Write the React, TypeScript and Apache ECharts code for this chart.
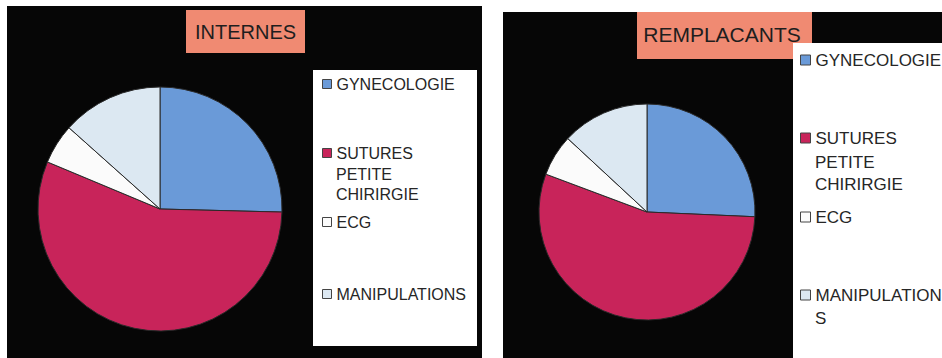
import React, { useEffect, useRef } from "react";
import * as echarts from "echarts";

const categories = ["GYNECOLOGIE", "SUTURES PETITE CHIRIRGIE", "ECG", "MANIPULATIONS"];
const colors = ["#6a9ad8", "#c8245a", "#fbfbfb", "#dce8f2"];
const internesValues = [25.4, 55.9, 5.3, 13.4];
const remplacantsValues = [25.7, 55.0, 6.2, 13.1];
const titles = ["INTERNES", "REMPLACANTS"];

const FONT = "'Liberation Sans', Arial, sans-serif";

export default function App() {
  const ref = useRef<HTMLDivElement>(null);
  useEffect(() => {
    if (!ref.current) return;
    const chart = echarts.init(ref.current, null, { renderer: "svg" });

    const mkData = (vals: number[]) =>
      categories.map((name, i) => ({ name, value: vals[i], itemStyle: { color: colors[i] } }));

    const pieBase = {
      type: "pie",
      startAngle: 90,
      clockwise: true,
      label: { show: false },
      labelLine: { show: false },
      emphasis: { disabled: true },
      itemStyle: { borderColor: "#2a2a2a", borderWidth: 1 },
      z: 5,
    };

    const mkLegend = (
      name: string,
      left: number,
      cy: number,
      fontSize: number,
      lh: number,
      iconSize: number,
      firstLine: string
    ) => ({
      left,
      top: cy - lh / 2,
      padding: 0,
      orient: "vertical",
      icon: "rect",
      itemWidth: iconSize,
      itemHeight: iconSize,
      selectedMode: false,
      itemStyle: { borderColor: "#444", borderWidth: 1 },
      data: [name],
      formatter: () => firstLine,
      textStyle: { fontFamily: FONT, fontSize, lineHeight: lh, color: "#262626" },
      z: 20,
    });

    const option = {
      animation: false,
      backgroundColor: "#ffffff",
      graphic: [
        { type: "rect", shape: { x: 7, y: 6, width: 475, height: 360 }, style: { fill: "#060606" }, z: 0 },
        { type: "rect", shape: { x: 503, y: 12, width: 450, height: 360 }, style: { fill: "#060606" }, z: 0 },
        { type: "rect", shape: { x: 186, y: 10, width: 119, height: 43 }, style: { fill: "#f08a72" }, z: 1 },
        {
          type: "text",
          x: 245.5,
          y: 32,
          style: { text: titles[0], fill: "#1e1e1e", font: `20px ${FONT}`, align: "center", verticalAlign: "middle" },
          z: 2,
        },
        { type: "rect", shape: { x: 637, y: 12, width: 175, height: 47 }, style: { fill: "#f08a72" }, z: 1 },
        {
          type: "text",
          x: 722,
          y: 34,
          style: { text: titles[1], fill: "#1e1e1e", font: `21px ${FONT}`, align: "center", verticalAlign: "middle" },
          z: 2,
        },
        { type: "rect", shape: { x: 313, y: 70, width: 164, height: 276 }, style: { fill: "#ffffff" }, z: 3 },
        { type: "rect", shape: { x: 793, y: 43, width: 160, height: 320 }, style: { fill: "#ffffff" }, z: 3 },
        {
          type: "text",
          x: 336,
          y: 164,
          style: { text: "PETITE\nCHIRIRGIE", fill: "#262626", font: `16px ${FONT}`, lineHeight: 20, verticalAlign: "top" },
          z: 20,
        },
        {
          type: "text",
          x: 815,
          y: 151,
          style: { text: "PETITE\nCHIRIRGIE", fill: "#262626", font: `17px ${FONT}`, lineHeight: 22, verticalAlign: "top" },
          z: 20,
        },
        {
          type: "text",
          x: 815,
          y: 318,
          style: { text: "S", fill: "#262626", font: `17px ${FONT}`, verticalAlign: "middle" },
          z: 20,
        },
      ],
      legend: [
        mkLegend(categories[0], 322, 84, 16, 20, 9, "GYNECOLOGIE"),
        mkLegend(categories[1], 322, 153, 16, 20, 9, "SUTURES"),
        mkLegend(categories[2], 322, 222, 16, 20, 9, "ECG"),
        mkLegend(categories[3], 322, 294, 16, 20, 9, "MANIPULATIONS"),
        mkLegend(categories[0], 800, 60, 17, 22, 10, "GYNECOLOGIE"),
        mkLegend(categories[1], 800, 138, 17, 22, 10, "SUTURES"),
        mkLegend(categories[2], 800, 217, 17, 22, 10, "ECG"),
        mkLegend(categories[3], 800, 295, 17, 22, 10, "MANIPULATION"),
      ],
      series: [
        { ...pieBase, name: titles[0], center: [160, 209], radius: 122, data: mkData(internesValues) },
        { ...pieBase, name: titles[1], center: [647, 212], radius: 108, data: mkData(remplacantsValues) },
      ],
    };
    chart.setOption(option as any);
    return () => chart.dispose();
  }, []);
  return (
    <div
      ref={ref}
      style={{ position: "fixed", left: 0, top: 0, width: 942, height: 358, background: "#fff" }}
    />
  );
}
